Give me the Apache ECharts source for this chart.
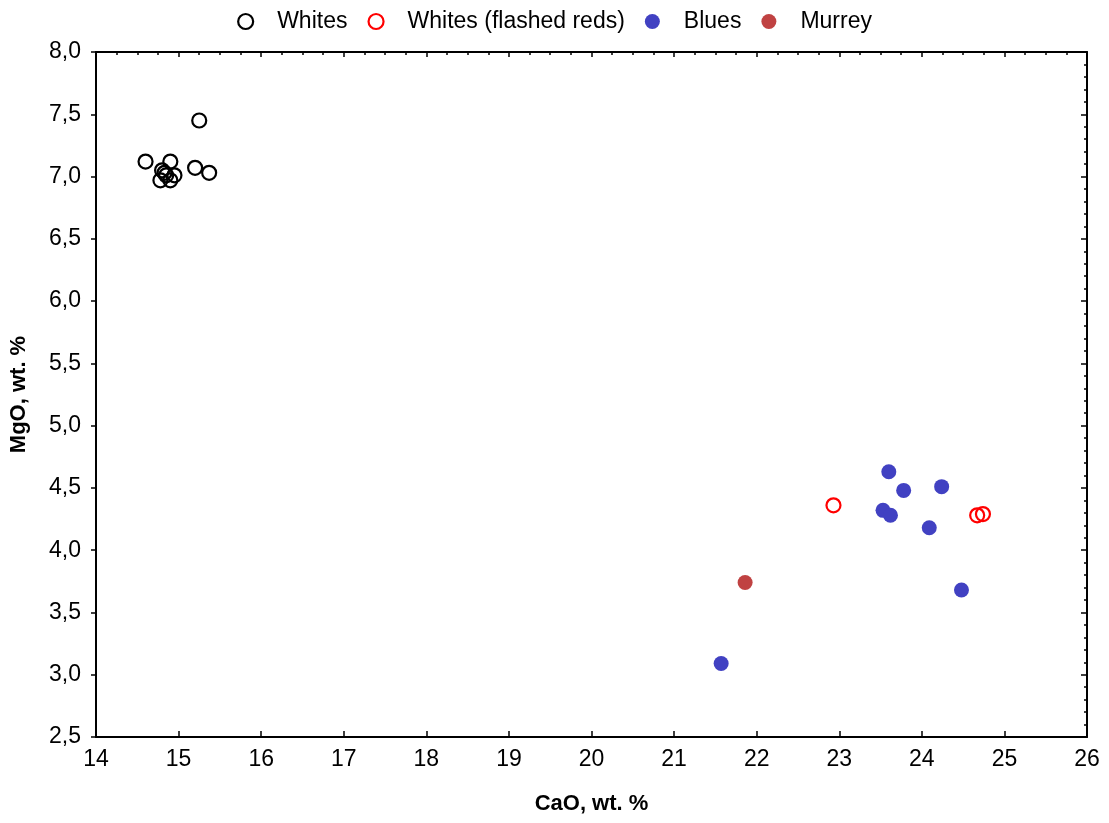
<!DOCTYPE html>
<html><head><meta charset="utf-8">
<script src="https://cdn.jsdelivr.net/npm/echarts@6/dist/echarts.min.js"></script>
<style>html,body{margin:0;padding:0;background:#fff}#c{width:1109px;height:823px}</style>
</head><body><div id="c"></div>
<script>
const seriesNames = ["Whites", "Whites (flashed reds)", "Blues", "Murrey"];
const whitesCaO = [15.25, 14.6, 14.9, 15.2, 15.37, 14.8, 14.95, 14.85, 14.78, 14.9, 14.83];
const whitesMgO = [7.45, 7.12, 7.12, 7.07, 7.03, 7.05, 7.01, 7.01, 6.97, 6.97, 7.03];
const flashedCaO = [22.93, 24.67, 24.74];
const flashedMgO = [4.36, 4.28, 4.29];
const bluesCaO = [23.6, 23.78, 24.24, 23.53, 23.62, 24.09, 24.48, 21.57];
const bluesMgO = [4.63, 4.48, 4.51, 4.32, 4.28, 4.18, 3.68, 3.09];
const murreyCaO = [21.86];
const murreyMgO = [3.74];
const xTicks = [14, 26, 1];
const yTicks = [2.5, 8.0, 0.5];

const zip = (a, b) => a.map((v, i) => [v, b[i]]);
const font = "Liberation Sans, Arial, sans-serif";
const chart = echarts.init(document.getElementById('c'));
const openStyle = c => ({ color: 'rgba(0,0,0,0)', borderColor: c, borderWidth: 2.2, opacity: 1 });
const fillStyle = c => ({ color: c, opacity: 1 });
chart.setOption({
  animation: false,
  textStyle: { fontFamily: font },
  legend: {
    top: 5, left: 'center', itemWidth: 15, itemHeight: 15, itemGap: 20,
    textStyle: { fontSize: 23, color: '#000', fontFamily: font, padding: [0, 0, 0, 19] },
    data: [
      { name: seriesNames[0], icon: 'circle', itemStyle: openStyle('#000') },
      { name: seriesNames[1], icon: 'circle', itemStyle: openStyle('#ff0000') },
      { name: seriesNames[2], icon: 'circle', itemStyle: fillStyle('#4141c2') },
      { name: seriesNames[3], icon: 'circle', itemStyle: fillStyle('#c04242') }
    ]
  },
  grid: { left: 96, right: 22, top: 52, bottom: 86 },
  xAxis: [{
    type: 'value', min: xTicks[0], max: xTicks[1], interval: xTicks[2], position: 'bottom',
    name: 'CaO, wt. %', nameLocation: 'middle', nameGap: 56,
    nameTextStyle: { fontSize: 22, fontWeight: 'bold', color: '#000', fontFamily: font },
    axisLine: { lineStyle: { color: '#000', width: 2 } },
    axisTick: { inside: true, length: 6, lineStyle: { color: '#000', width: 1.5 } },
    axisLabel: { fontSize: 23, color: '#000', margin: 11, fontFamily: font },
    splitLine: { show: false }
  }, {
    type: 'value', min: xTicks[0], max: xTicks[1], interval: xTicks[2], position: 'top',
    axisLine: { lineStyle: { color: '#000', width: 2 } },
    axisTick: { inside: true, length: 5, lineStyle: { color: '#000', width: 1.5 } },
    minorTick: { show: true, splitNumber: 4, length: 3, lineStyle: { color: '#000', width: 1.5 } },
    axisLabel: { show: false }, splitLine: { show: false }
  }],
  yAxis: [{
    type: 'value', min: yTicks[0], max: yTicks[1], interval: yTicks[2], position: 'left',
    name: 'MgO, wt. %', nameLocation: 'middle', nameGap: 66,
    nameTextStyle: { fontSize: 22, fontWeight: 'bold', color: '#000', fontFamily: font },
    axisLine: { lineStyle: { color: '#000', width: 2 } },
    axisTick: { inside: false, length: 5, lineStyle: { color: '#000', width: 1.5 } },
    axisLabel: { fontSize: 23, color: '#000', margin: 15, fontFamily: font,
      formatter: v => v.toFixed(1).replace('.', ',') },
    splitLine: { show: false }
  }, {
    type: 'value', min: yTicks[0], max: yTicks[1], interval: yTicks[2], position: 'right',
    axisLine: { lineStyle: { color: '#000', width: 2 } },
    axisTick: { inside: true, length: 6, lineStyle: { color: '#000', width: 1.5 } },
    minorTick: { show: true, splitNumber: 5, length: 3, lineStyle: { color: '#000', width: 1.5 } },
    axisLabel: { show: false }, splitLine: { show: false }
  }],
  series: [
    { name: seriesNames[0], type: 'scatter', symbol: 'circle', symbolSize: 14,
      data: zip(whitesCaO, whitesMgO), itemStyle: openStyle('#000') },
    { name: seriesNames[1], type: 'scatter', symbol: 'circle', symbolSize: 14,
      data: zip(flashedCaO, flashedMgO), itemStyle: openStyle('#ff0000') },
    { name: seriesNames[2], type: 'scatter', symbol: 'circle', symbolSize: 15,
      data: zip(bluesCaO, bluesMgO), itemStyle: fillStyle('#4141c2') },
    { name: seriesNames[3], type: 'scatter', symbol: 'circle', symbolSize: 15,
      data: zip(murreyCaO, murreyMgO), itemStyle: fillStyle('#c04242') }
  ]
});
</script></body></html>
